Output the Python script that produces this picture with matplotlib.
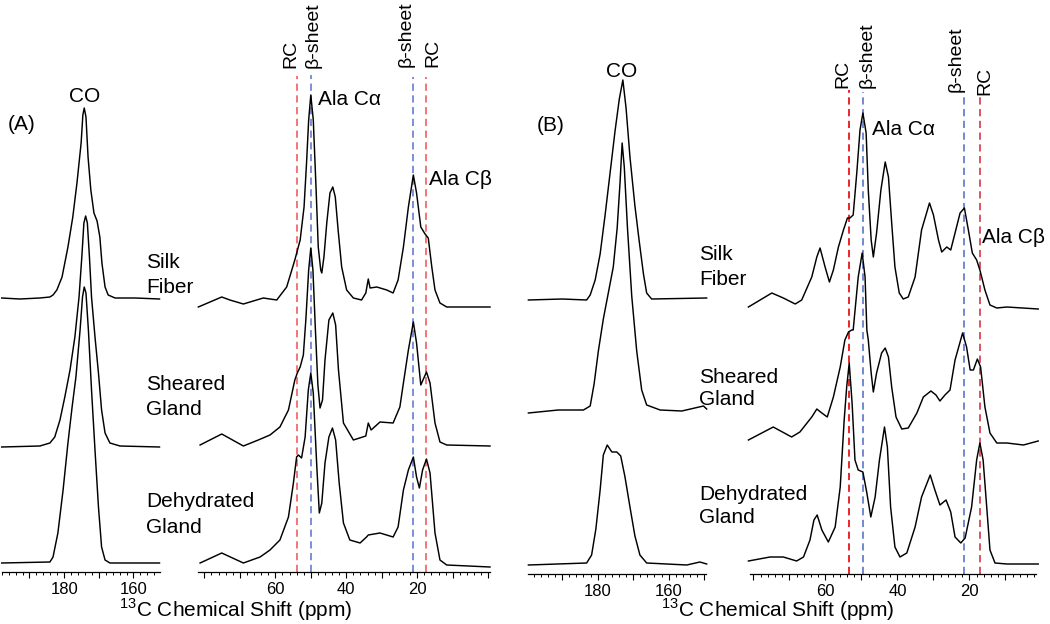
import matplotlib
matplotlib.use("Agg")
import matplotlib.pyplot as plt
from matplotlib.ticker import MultipleLocator, FuncFormatter

plt.rcParams['font.family'] = ['Liberation Sans', 'DejaVu Sans']
plt.rcParams['mathtext.fontset'] = 'custom'
plt.rcParams['mathtext.rm'] = 'Liberation Sans'

W, H = 1050, 624

# ---------------- data (ppm, intensity in arbitrary units incl. stacking offset) -------------
# Panel A, carbonyl region
A_co_silk_ppm = [198.0, 192.8, 187.0, 184.1, 183.2, 182.1, 180.6, 178.9, 177.5, 176.3, 175.1, 174.6, 174.2, 173.7, 173.1, 172.3, 171.4, 170.5, 169.7, 169.1, 168.2, 167.3, 165.3, 159.5, 152.5]
A_co_silk_val = [274, 273, 274, 275, 277, 282, 295, 325, 355, 389, 429, 457, 464, 455, 415, 382, 359, 351, 335, 309, 285, 277, 274, 274, 273]
A_co_shear_ppm = [198.0, 187.0, 184.1, 182.7, 181.2, 179.8, 178.3, 176.9, 175.7, 174.9, 174.3, 173.8, 173.3, 172.7, 172.1, 171.1, 170.1, 169.2, 168.2, 166.8, 163.9, 152.5]
A_co_shear_val = [125, 126, 129, 135, 152, 175, 202, 235, 275, 315, 349, 356, 349, 315, 275, 235, 199, 162, 139, 129, 126, 125]
A_co_dehyd_ppm = [198.0, 184.1, 183.2, 181.8, 180.3, 178.9, 177.7, 176.6, 175.4, 174.7, 174.2, 173.7, 173.0, 172.1, 171.1, 170.1, 169.2, 168.2, 166.8, 152.5]
A_co_dehyd_val = [9, 10, 15, 39, 82, 129, 165, 195, 242, 275, 285, 279, 242, 182, 122, 65, 25, 12, 9, 9]

# Panel A, aliphatic region
A_al_silk_ppm = [81.7, 75.1, 72.8, 69.0, 63.4, 59.6, 56.8, 54.5, 53.0, 51.9, 51.2, 50.6, 50.0, 49.3, 48.5, 47.9, 47.2, 46.9, 46.3, 45.5, 44.6, 43.8, 43.1, 42.3, 41.3, 39.9, 38.0, 35.7, 34.5, 33.8, 33.3, 31.4, 28.6, 26.8, 25.4, 23.9, 22.5, 21.1, 20.2, 19.0, 17.8, 16.9, 15.9, 15.0, 13.6, 11.7, -0.5]
A_al_silk_val = [265, 275, 272, 268, 274, 272, 285, 312, 332, 365, 409, 452, 477, 452, 382, 325, 302, 299, 315, 349, 379, 385, 375, 342, 305, 282, 274, 272, 279, 293, 284, 285, 282, 279, 292, 325, 365, 397, 379, 345, 338, 334, 305, 282, 269, 265, 265]
A_al_shear_ppm = [81.2, 75.1, 69.0, 64.8, 61.5, 58.7, 56.3, 54.5, 53.8, 53.0, 52.1, 51.4, 50.6, 50.0, 49.4, 48.7, 48.0, 47.4, 46.7, 46.0, 44.9, 43.8, 43.0, 42.2, 40.8, 38.0, 34.5, 33.8, 33.0, 30.5, 26.8, 24.9, 23.9, 22.5, 21.1, 20.2, 19.0, 17.4, 16.4, 15.0, 13.6, 11.7, -0.5]
A_al_shear_val = [127, 138, 126, 132, 137, 145, 162, 192, 199, 205, 217, 252, 302, 324, 302, 242, 187, 164, 172, 212, 252, 259, 247, 202, 149, 132, 136, 149, 142, 150, 149, 165, 189, 222, 250, 229, 187, 200, 189, 149, 130, 127, 126]
A_al_dehyd_ppm = [81.2, 75.1, 69.0, 64.3, 61.5, 58.7, 56.3, 54.9, 54.0, 53.5, 52.6, 51.6, 50.7, 50.0, 49.3, 48.3, 47.6, 46.9, 46.0, 44.9, 43.9, 43.0, 42.0, 40.8, 39.0, 36.1, 34.3, 33.8, 30.5, 26.8, 25.4, 23.9, 22.5, 21.1, 20.2, 19.4, 18.5, 17.4, 16.4, 15.0, 13.6, 11.7, -0.5]
A_al_dehyd_val = [9, 19, 9, 15, 22, 32, 55, 89, 115, 117, 114, 135, 182, 199, 179, 105, 59, 69, 109, 135, 144, 132, 89, 49, 32, 29, 35, 37, 39, 35, 45, 82, 102, 115, 95, 84, 102, 113, 99, 39, 12, 7, 5]

# Panel B, carbonyl region
B_co_silk_ppm = [199.5, 190.0, 183.1, 182.1, 180.7, 179.3, 177.9, 176.5, 175.1, 173.9, 172.9, 172.0, 170.9, 169.5, 168.3, 167.1, 166.2, 164.8, 149.3]
B_co_silk_val = [274, 275, 274, 279, 294, 320, 359, 401, 443, 475, 494, 466, 417, 368, 333, 300, 281, 275, 276]
B_co_shear_ppm = [199.5, 191.1, 184.0, 182.1, 181.0, 179.8, 178.4, 177.0, 175.6, 174.5, 173.7, 173.1, 172.5, 171.6, 170.4, 169.0, 167.6, 166.2, 162.4, 156.3, 150.2, 149.3]
B_co_shear_val = [161, 164, 164, 168, 190, 223, 255, 281, 307, 346, 391, 431, 407, 346, 278, 223, 184, 169, 164, 163, 168, 165]
B_co_dehyd_ppm = [199.5, 183.1, 181.7, 180.5, 179.3, 178.4, 177.3, 176.0, 174.6, 173.5, 172.3, 170.9, 169.5, 168.1, 166.2, 154.9, 151.2, 149.3]
B_co_dehyd_val = [9, 11, 19, 45, 84, 119, 129, 122, 122, 118, 97, 67, 38, 19, 11, 9, 12, 10]

# Panel B, aliphatic region
B_al_silk_ppm = [81.4, 74.9, 71.7, 68.4, 66.6, 63.8, 62.4, 61.5, 60.1, 58.9, 57.8, 56.4, 55.0, 53.9, 53.2, 52.3, 51.3, 50.4, 49.6, 48.7, 48.1, 47.3, 46.7, 45.8, 44.6, 43.4, 42.5, 41.6, 40.7, 39.5, 38.4, 37.0, 35.1, 33.3, 31.1, 30.0, 28.6, 27.7, 26.3, 25.2, 24.0, 22.6, 21.4, 20.3, 19.2, 18.0, 17.1, 15.7, 14.3, 12.4, 9.6, 0.9]
B_al_silk_val = [267, 281, 276, 270, 274, 297, 317, 326, 307, 292, 304, 327, 344, 356, 356, 359, 401, 444, 461, 441, 384, 334, 317, 341, 384, 412, 397, 351, 307, 281, 275, 277, 297, 344, 371, 359, 334, 322, 327, 324, 341, 361, 366, 344, 321, 314, 304, 284, 269, 266, 267, 265]
B_al_shear_ppm = [81.4, 74.5, 69.4, 67.1, 63.8, 62.4, 61.0, 59.5, 57.8, 55.9, 54.6, 53.6, 52.7, 52.3, 50.9, 49.8, 49.0, 48.5, 48.1, 47.3, 46.7, 45.8, 44.4, 43.4, 42.5, 41.6, 40.4, 38.8, 37.0, 34.6, 32.8, 30.7, 29.3, 28.2, 26.8, 25.4, 24.0, 21.9, 20.8, 19.8, 18.9, 17.8, 16.9, 15.7, 14.3, 12.4, 9.6, 5.0, 0.9]
B_al_shear_val = [134, 147, 137, 142, 157, 165, 161, 157, 177, 207, 234, 242, 244, 244, 297, 321, 297, 244, 234, 201, 182, 201, 221, 226, 217, 187, 157, 145, 146, 161, 177, 183, 179, 173, 179, 184, 214, 241, 227, 204, 204, 215, 207, 167, 141, 131, 131, 129, 133]
B_al_dehyd_ppm = [81.4, 75.4, 71.7, 68.0, 66.1, 64.3, 63.2, 62.3, 61.0, 59.2, 57.3, 55.9, 54.8, 54.1, 53.4, 52.6, 51.8, 50.9, 49.6, 48.5, 47.4, 46.2, 45.0, 43.6, 42.8, 41.9, 40.7, 39.3, 37.4, 35.1, 33.3, 30.9, 29.6, 28.2, 26.5, 25.2, 24.0, 22.4, 21.2, 19.4, 18.0, 17.1, 16.2, 15.2, 14.3, 12.9, 9.6, 0.9]
B_al_dehyd_val = [13, 17, 17, 13, 17, 34, 54, 59, 44, 32, 47, 87, 154, 187, 211, 171, 114, 104, 102, 81, 57, 77, 114, 147, 127, 67, 27, 17, 21, 47, 77, 99, 84, 69, 74, 62, 37, 31, 36, 67, 114, 131, 114, 67, 24, 11, 10, 10]

# reference shift positions (ppm): RC Ca, beta Ca, beta Cb, RC Cb
A_ref_ppm = [53.8, 50.0, 21.1, 17.4]
B_ref_ppm = [53.4, 49.6, 21.4, 17.1]
ref_kind = ['RC', 'beta', 'beta', 'RC']

co_labels = [180, 160]
al_labels = [60, 40, 20]
sample_names = [["Silk", "Fiber"], ["Sheared", "Gland"], ["Dehydrated", "Gland"]]

# ---------------- figure ----------------
fig = plt.figure(figsize=(W / 100, H / 100), dpi=100)


def add_ax(x0, x1, ybot, xlim, labels):
    ax = fig.add_axes([x0 / W, 1 - ybot / H, (x1 - x0) / W, ybot / H])
    ax.set_xlim(*xlim)
    ax.set_ylim(0, ybot)
    for s in ('top', 'left', 'right'):
        ax.spines[s].set_visible(False)
    ax.spines['bottom'].set_linewidth(0.9)
    ax.set_yticks([])
    ax.patch.set_alpha(0)
    ax.xaxis.set_major_locator(MultipleLocator(10))
    ax.xaxis.set_minor_locator(MultipleLocator(2))
    ax.xaxis.set_major_formatter(FuncFormatter(
        lambda v, p: f"{v:.0f}" if int(round(v)) in labels else ""))
    ax.tick_params(axis='x', which='major', direction='out', length=4.5, width=0.8,
                   labelsize=12, pad=2.5)
    ax.tick_params(axis='x', which='minor', direction='out', length=2.5, width=0.7)
    return ax


def ptext(x, y, s, **kw):
    fig.text(x / W, 1 - y / H, s, **kw)


axA1 = add_ax(1.7, 159.5, 572, (198.0, 152.5), co_labels)
axA2 = add_ax(197.6, 490.0, 572, (81.9, -0.5), al_labels)
axB1 = add_ax(528.4, 705.6, 574, (199.5, 149.6), co_labels)
axB2 = add_ax(749.5, 1036.4, 574, (81.1, 1.4), al_labels)

lkw = dict(color='black', lw=1.05, zorder=3, clip_on=False,
           solid_joinstyle='round', antialiased=True)
axA1.plot(A_co_silk_ppm, A_co_silk_val, **lkw)
axA1.plot(A_co_shear_ppm, A_co_shear_val, **lkw)
axA1.plot(A_co_dehyd_ppm, A_co_dehyd_val, **lkw)
axA2.plot(A_al_silk_ppm, A_al_silk_val, **lkw)
axA2.plot(A_al_shear_ppm, A_al_shear_val, **lkw)
axA2.plot(A_al_dehyd_ppm, A_al_dehyd_val, **lkw)
axB1.plot(B_co_silk_ppm, B_co_silk_val, **lkw)
axB1.plot(B_co_shear_ppm, B_co_shear_val, **lkw)
axB1.plot(B_co_dehyd_ppm, B_co_dehyd_val, **lkw)
axB2.plot(B_al_silk_ppm, B_al_silk_val, **lkw)
axB2.plot(B_al_shear_ppm, B_al_shear_val, **lkw)
axB2.plot(B_al_dehyd_ppm, B_al_dehyd_val, **lkw)

# dashed reference lines
A_cols = ['#f26b6b', '#6f87d6', '#6f87d6', '#f26b6b']
B_cols = ['#e8161c', '#6a7fcc', '#6a7fcc', '#d8475a']
A_tops = [496, 497, 495, 495]
B_tops = [484, 482, 481, 479]
for p, c, t in zip(A_ref_ppm, A_cols, A_tops):
    axA2.vlines(p, 0, t, colors=c, linestyles=(0, (4, 2.5)), lw=1.3, zorder=2)
for p, c, t in zip(B_ref_ppm, B_cols, B_tops):
    axB2.vlines(p, 0, t, colors=c, linestyles=(0, (4, 2.5)), lw=1.3, zorder=2)

# rotated labels above the reference lines
A_lab = [(290.7, 68), (313.5, 68), (406.0, 67), (433.0, 67)]
B_lab = [(843.0, 88), (867.0, 88), (956.0, 92), (985.0, 95)]
for kind, (x, y) in zip(ref_kind, A_lab):
    ptext(x, y, 'RC' if kind == 'RC' else 'β-sheet', rotation=90, ha='center',
          va='bottom', fontsize=14)
for kind, (x, y) in zip(ref_kind, B_lab):
    ptext(x, y, 'RC' if kind == 'RC' else 'β-sheet', rotation=90, ha='center',
          va='bottom', fontsize=14)

# peak labels
fs = 15
ptext(85, 102, 'CO', ha='center', va='baseline', fontsize=fs)
ptext(622, 77, 'CO', ha='center', va='baseline', fontsize=fs)
ptext(22, 124, '(A)', ha='center', va='center', fontsize=fs)
ptext(551, 126, '(B)', ha='center', va='center', fontsize=fs)
ptext(318, 105, 'Ala Cα', ha='left', va='baseline', fontsize=fs)
ptext(429, 185, 'Ala Cβ', ha='left', va='baseline', fontsize=fs)
ptext(872, 135, 'Ala Cα', ha='left', va='baseline', fontsize=fs)
ptext(982, 243, 'Ala Cβ', ha='left', va='baseline', fontsize=fs)

# sample labels
A_name_y = [(268, 293), (390, 415), (507, 533)]
B_name_y = [(260, 285), (383, 405), (500, 523)]
for names, (y1, y2) in zip(sample_names, A_name_y):
    ptext(146, y1, names[0], ha='left', va='baseline', fontsize=fs)
    ptext(146, y2, names[1], ha='left', va='baseline', fontsize=fs)
for names, (y1, y2) in zip(sample_names, B_name_y):
    ptext(699, y1, names[0], ha='left', va='baseline', fontsize=fs)
    ptext(699, y2, names[1], ha='left', va='baseline', fontsize=fs)

# axis titles
xlab = r'$^{13}$C Chemical Shift (ppm)'
ptext(236, 617, xlab, ha='center', va='baseline', fontsize=15)
ptext(778, 617, xlab, ha='center', va='baseline', fontsize=15)

fig.savefig('out.png', dpi=100)
